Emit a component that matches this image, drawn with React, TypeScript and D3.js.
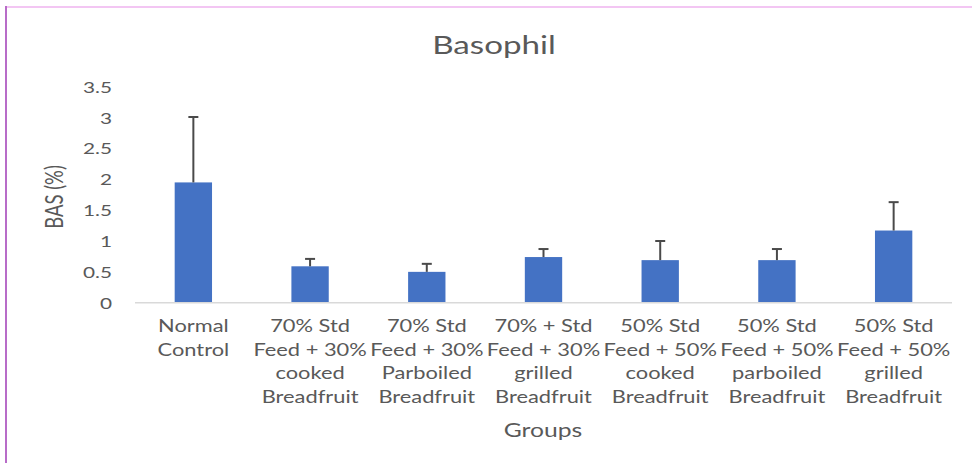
import React from 'react'
import * as d3 from 'd3'

const groups = [
  ['Normal', 'Control'],
  ['70% Std', 'Feed + 30%', 'cooked', 'Breadfruit'],
  ['70% Std', 'Feed + 30%', 'Parboiled', 'Breadfruit'],
  ['70% + Std', 'Feed + 30%', 'grilled', 'Breadfruit'],
  ['50% Std', 'Feed + 50%', 'cooked', 'Breadfruit'],
  ['50% Std', 'Feed + 50%', 'parboiled', 'Breadfruit'],
  ['50% Std', 'Feed + 50%', 'grilled', 'Breadfruit'],
]
const basValues = [1.95, 0.59, 0.5, 0.74, 0.69, 0.69, 1.17]
const basErrors = [1.06, 0.12, 0.13, 0.13, 0.31, 0.18, 0.46]
const yTicks = [0, 0.5, 1, 1.5, 2, 2.5, 3, 3.5]

const W = 972
const H = 463
const SX = 1.3 // the picture is stretched sideways
const FONT = 'Lato, "Open Sans", sans-serif'
const TXT = '#595959'

// text stretched horizontally around its anchor point
const T = ({ x, y, size, anchor = 'middle', children }: any) => (
  <text
    transform={`translate(${x},${y}) scale(${SX},1)`}
    fontSize={size}
    fontFamily={FONT}
    fill={TXT}
    textAnchor={anchor}
  >
    {children}
  </text>
)

export default function App() {
  const keys = groups.map((_, i) => String(i))
  const x = d3.scaleBand().domain(keys).range([135, 952]).paddingInner(0.68).paddingOuter(0.34)
  const y = d3.scaleLinear().domain([0, 3.5]).range([302.7, 86.8])
  const bw = x.bandwidth()
  const cap = 5

  return (
    <svg width={W} height={H} style={{ position: 'absolute', left: 0, top: 0, background: '#fff' }}>
      {/* frame */}
      <line x1={6} x2={W} y1={7} y2={7} stroke="#f3c6f3" strokeWidth={2} />
      <line x1={6} x2={6} y1={6} y2={H} stroke="#b86cc8" strokeWidth={2} />

      <T x={494} y={54} size={25.5}>Basophil</T>

      {/* y tick labels */}
      {yTicks.map(t => (
        <T key={t} x={112} y={y(t) + 6} size={16} anchor="end">{String(t)}</T>
      ))}

      {/* y title */}
      <text
        transform={`translate(63,197) rotate(-90) scale(1,${SX})`}
        fontSize={18.5}
        fontFamily={FONT}
        fill={TXT}
        textAnchor="middle"
      >
        BAS (%)
      </text>

      {/* bars */}
      {basValues.map((v, i) => (
        <rect key={i} x={x(keys[i])!} y={y(v)} width={bw} height={y(0) - y(v)} fill="#4472c4" />
      ))}

      {/* error bars */}
      {basValues.map((v, i) => {
        const cx = x(keys[i])! + bw / 2
        const top = y(v + basErrors[i])
        return (
          <g key={i} stroke="#4a4a4a" strokeWidth={2}>
            <line x1={cx} x2={cx} y1={y(v)} y2={top} />
            <line x1={cx - cap} x2={cx + cap} y1={top} y2={top} />
          </g>
        )
      })}

      {/* baseline */}
      <line x1={135} x2={952} y1={y(0)} y2={y(0)} stroke="#d9d9d9" strokeWidth={1.5} />

      {/* category labels */}
      {groups.map((lines, i) =>
        lines.map((l, j) => (
          <T key={i + '-' + j} x={x(keys[i])! + bw / 2} y={332 + j * 23.6} size={16.8}>{l}</T>
        ))
      )}

      <T x={543} y={437} size={19}>Groups</T>
    </svg>
  )
}
